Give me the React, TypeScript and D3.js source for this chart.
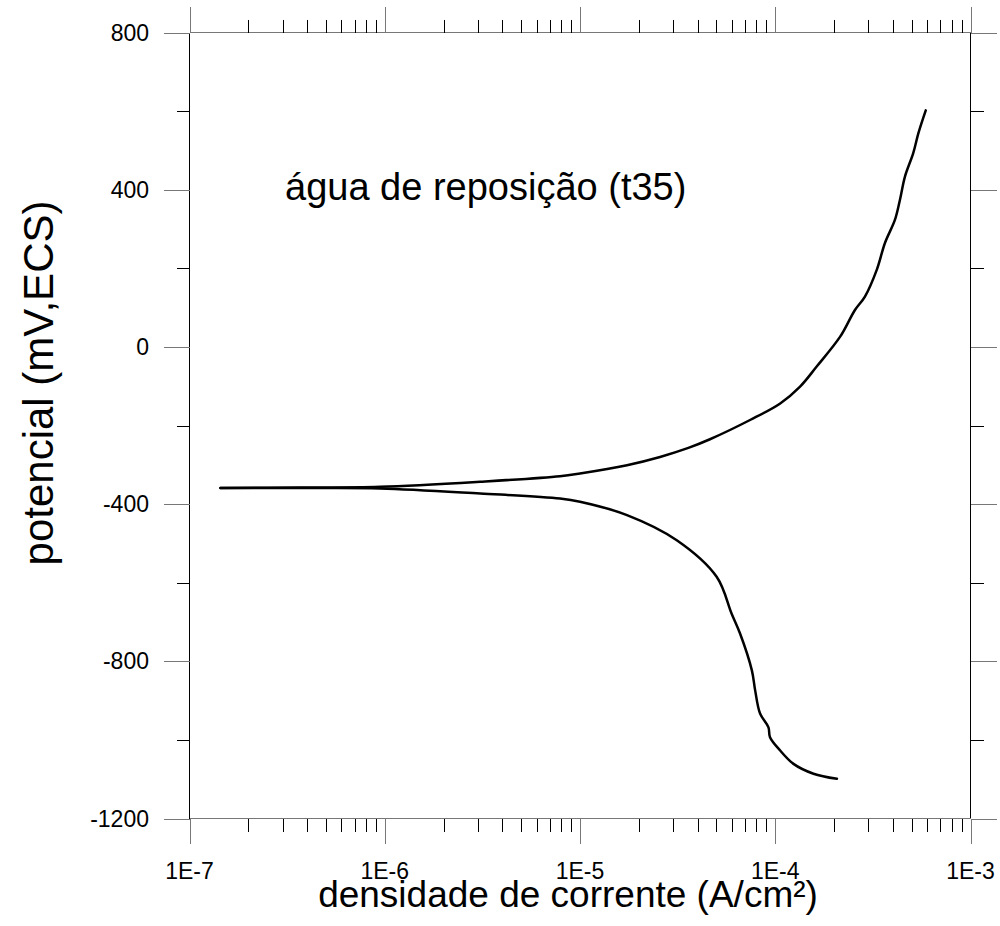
import React from "react";
import * as d3 from "d3";

const anodicCurrent = [1.44e-7, 3.69e-7, 9.46e-7, 3.08e-6, 7.9e-6, 1.0e-5, 1.74e-5, 2.57e-5, 3.59e-5, 4.63e-5, 7.43e-5, 1.06e-4, 1.34e-4, 1.63e-4, 2.15e-4, 2.56e-4, 2.88e-4, 3.31e-4, 3.65e-4, 4.1e-4, 4.35e-4, 4.62e-4, 5.09e-4, 5.41e-4, 5.9e-4];
const anodicPotential = [-359, -358, -356, -343, -329, -322, -301, -280, -257, -235, -186, -144, -101, -50, 26, 94, 128, 196, 265, 323, 374, 434, 493, 544, 602];

const cathodicCurrent = [1.44e-7, 3.69e-7, 9.46e-7, 3.08e-6, 7.9e-6, 1.0e-5, 1.74e-5, 3.13e-5, 5.01e-5, 5.98e-5, 6.61e-5, 7.59e-5, 7.89e-5, 8.36e-5, 9.23e-5, 9.4e-5, 1.06e-4, 1.24e-4, 1.57e-4, 2.07e-4];
const cathodicPotential = [-359, -359, -360, -373, -386, -394, -428, -492, -585, -679, -730, -823, -874, -933, -968, -993, -1027, -1061, -1086, -1099];

const xMajorTicks = [1e-7, 1e-6, 1e-5, 1e-4, 1e-3];
const xTickLabels = ["1E-7", "1E-6", "1E-5", "1E-4", "1E-3"];
const yMajorTicks = [800, 400, 0, -400, -800, -1200];
const yMinorTicks = [600, 200, -200, -600, -1000];

const annotation = "água de reposição (t35)";
const xTitle = "densidade de corrente (A/cm²)";
const yTitle = "potencial (mV,ECS)";

export default function App() {
  const left = 189.5, right = 970.5, top = 32.5, bottom = 818.5;
  const x = d3.scaleLog().domain([1e-7, 1e-3]).range([left, right]);
  const y = d3.scaleLinear().domain([-1200, 800]).range([bottom, top]);

  const xMinor: number[] = [];
  for (let e = -7; e < -3; e++) {
    for (let m = 2; m <= 9; m++) xMinor.push(m * Math.pow(10, e));
  }

  const line = d3
    .line<[number, number]>()
    .x((d) => x(d[0]))
    .y((d) => y(d[1]))
    .curve(d3.curveCatmullRom);

  const anodic = anodicCurrent.map((c, i) => [c, anodicPotential[i]] as [number, number]);
  const cathodic = cathodicCurrent.map((c, i) => [c, cathodicPotential[i]] as [number, number]);

  const font = "'Liberation Sans', Arial, sans-serif";
  const major = 26, minor = 13;
  const snap = (v: number) => Math.round(v) + 0.5;

  return (
    <svg width={1000} height={926} style={{ position: "absolute", left: 0, top: 0, background: "#fff" }}>
      <g stroke="#000" strokeWidth={1} fill="none" shapeRendering="crispEdges">
        <line x1={left} x2={left} y1={top} y2={bottom} />
        <line x1={right} x2={right} y1={top} y2={bottom} />
        <line x1={left} x2={right} y1={top} y2={top} stroke="#777" />
        <line x1={left} x2={right} y1={bottom} y2={bottom} stroke="#777" />
        {xMajorTicks.map((t) => (
          <g key={"xM" + t}>
            <line x1={snap(x(t))} x2={snap(x(t))} y1={bottom} y2={bottom + major - 1} stroke="#777" />
            <line x1={snap(x(t))} x2={snap(x(t))} y1={top} y2={top - major} stroke="#777" />
          </g>
        ))}
        {xMinor.map((t) => (
          <g key={"xm" + t}>
            <line x1={snap(x(t))} x2={snap(x(t))} y1={bottom} y2={bottom + minor} />
            <line x1={snap(x(t))} x2={snap(x(t))} y1={top} y2={top - minor} />
          </g>
        ))}
        {yMajorTicks.map((t) => (
          <g key={"yM" + t}>
            <line x1={left - major} x2={left} y1={snap(y(t))} y2={snap(y(t))} stroke="#777" />
            <line x1={right} x2={right + major} y1={snap(y(t))} y2={snap(y(t))} stroke="#777" />
          </g>
        ))}
        {yMinorTicks.map((t) => (
          <g key={"ym" + t}>
            <line x1={left - minor} x2={left} y1={snap(y(t))} y2={snap(y(t))} />
            <line x1={right} x2={right + minor} y1={snap(y(t))} y2={snap(y(t))} />
          </g>
        ))}
      </g>

      <path d={line(anodic) || ""} fill="none" stroke="#000" strokeWidth={2.5} strokeLinejoin="round" strokeLinecap="round" />
      <path d={line(cathodic) || ""} fill="none" stroke="#000" strokeWidth={2.5} strokeLinejoin="round" strokeLinecap="round" />

      <g fontFamily={font} fill="#000">
        {xMajorTicks.map((t, i) => (
          <text key={"xl" + t} x={x(t)} y={879} fontSize={23} textAnchor="middle">
            {xTickLabels[i]}
          </text>
        ))}
        {yMajorTicks.map((t) => (
          <text key={"yl" + t} x={149} y={y(t) + 8} fontSize={23} textAnchor="end">
            {t}
          </text>
        ))}
        <text x={285} y={200} fontSize={38}>{annotation}</text>
        <text x={568} y={907} fontSize={37} textAnchor="middle">{xTitle}</text>
        <text transform={`translate(53,383) rotate(-90)`} fontSize={42} textAnchor="middle">{yTitle}</text>
      </g>
    </svg>
  );
}
